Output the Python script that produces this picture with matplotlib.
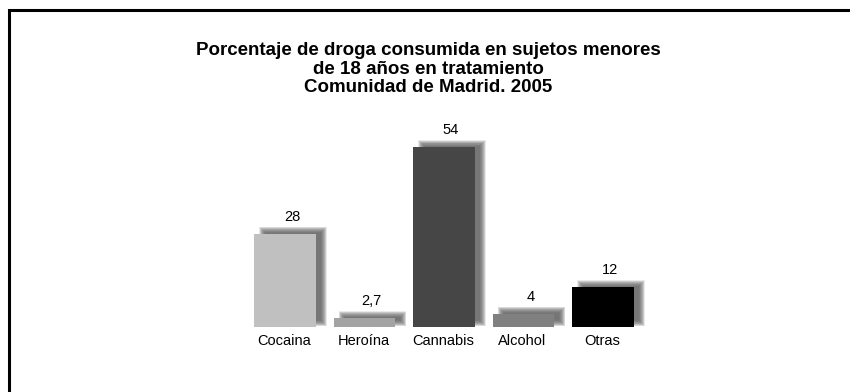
import matplotlib
matplotlib.use("Agg")
import numpy as np
import matplotlib.pyplot as plt
from matplotlib.patches import Rectangle
from matplotlib.lines import Line2D

categorias = ["Cocaina", "Heroína", "Cannabis", "Alcohol", "Otras"]
porcentajes = [28, 2.7, 54, 4, 12]
etiquetas = ["28", "2,7", "54", "4", "12"]
colores = ["#c0c0c0", "#a3a3a3", "#464646", "#808080", "#000000"]

titulo = ("Porcentaje de droga consumida en sujetos menores\n"
          "de 18 años en tratamiento\n"
          "Comunidad de Madrid. 2005")

plt.rcParams["font.family"] = ["Liberation Sans", "DejaVu Sans"]

W, H = 850, 392
fig = plt.figure(figsize=(W / 100, H / 100), dpi=100)

# marco (solo se ven los lados superior e izquierdo)
fig.add_artist(Line2D([8.8 / W, 8.8 / W, 1.0], [0.0, 1 - 10.3 / H, 1 - 10.3 / H],
                      color="black", lw=2.2, solid_joinstyle="miter"))

fig.text(428 / W, 1 - 69 / H, titulo, ha="center", va="center",
         fontsize=13.5, fontweight="bold", linespacing=1.1)

# ejes invisibles: 79.5 px por categoria, 10/3 px por punto porcentual
paso_px = 79.5
xmin, xmax = -0.6, 4.6
ymin, ymax = 0, 60
ax_w = (xmax - xmin) * paso_px
ax_h = (ymax - ymin) * (180 / 54)
ax = fig.add_axes([(285 - 0.6 * paso_px) / W, 65 / H, ax_w / W, ax_h / H])
ax.set_xlim(xmin, xmax)
ax.set_ylim(ymin, ymax)
ax.axis("off")

ux = (xmax - xmin) / ax_w   # unidades de datos por pixel
uy = (ymax - ymin) / ax_h
ancho = 0.77
dx, dy = 8, 4               # desplazamiento de la sombra en pixels
capas = np.arange(3.0, -3.01, -0.5)

for i, (v, c) in enumerate(zip(porcentajes, colores)):
    x0 = i - ancho / 2
    # sombra difuminada: muchas capas finas semitransparentes
    for g in capas:
        ax.add_patch(Rectangle((x0 + (dx - g) * ux, (dy - g) * uy),
                               ancho + 2 * g * ux, v + 2 * g * uy,
                               facecolor="#5a5a5a", edgecolor="none",
                               alpha=0.12, zorder=1, clip_on=False))
    ax.bar(i, v, width=ancho, color=c, zorder=3)
    ax.annotate(etiquetas[i], (i, v), xytext=(7, 17), textcoords="offset pixels",
                ha="center", va="center", fontsize=10.5)
    ax.annotate(categorias[i], (i, 0), xytext=(-1, -14), textcoords="offset pixels",
                ha="center", va="center", fontsize=10.5)

fig.savefig("out.png", dpi=100)
